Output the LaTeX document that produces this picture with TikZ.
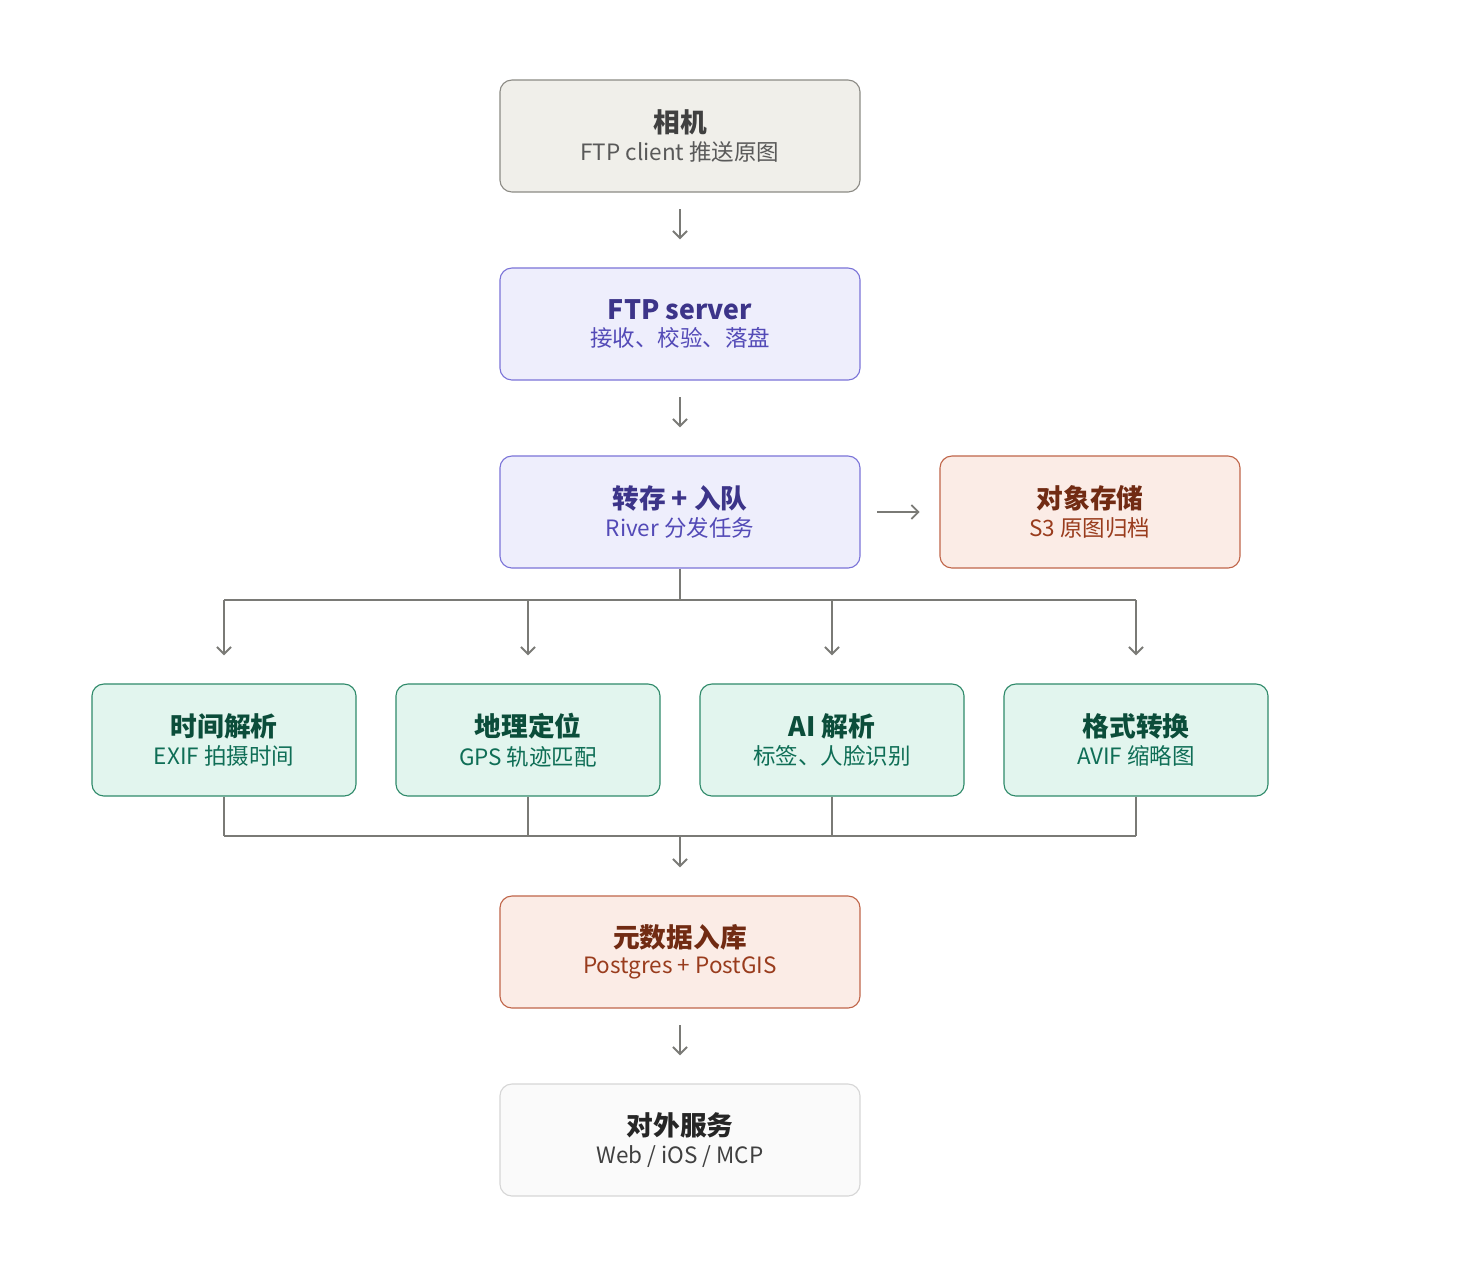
\documentclass[tikz,border=0pt]{standalone}
\usepackage{fontspec}
\setmainfont{Noto Sans CJK SC}
\usetikzlibrary{arrows.meta,positioning}
\definecolor{grayfill}{HTML}{F0EFEA}\definecolor{grayline}{HTML}{8C8B85}
\definecolor{purfill}{HTML}{EEEEFC}\definecolor{purline}{HTML}{7B74D8}
\definecolor{purtext}{HTML}{3C3489}\definecolor{pursub}{HTML}{534AB7}
\definecolor{orfill}{HTML}{FBECE6}\definecolor{orline}{HTML}{C0664A}
\definecolor{ortext}{HTML}{712B13}\definecolor{orsub}{HTML}{993C1D}
\definecolor{grfill}{HTML}{E2F5EE}\definecolor{grline}{HTML}{2F8A6A}
\definecolor{grtext}{HTML}{0B4D3A}\definecolor{grsub}{HTML}{0F6E56}
\definecolor{whfill}{HTML}{FAFAFA}\definecolor{whline}{HTML}{D6D6D6}
\definecolor{arrowc}{HTML}{7A7A76}
\begin{document}
\begin{tikzpicture}[x=0.025cm,y=-0.025cm,
  box/.style={draw, line width=0.8pt, rounded corners=0.3cm, minimum height=2.8cm, align=center, inner sep=0pt},
  wide/.style={box, minimum width=9cm},
  narrow/.style={box, minimum width=6.6cm},
  side/.style={box, minimum width=7.5cm},
  gray/.style={fill=grayfill, draw=grayline, text=black!75},
  purple/.style={fill=purfill, draw=purline, text=purtext},
  orange/.style={fill=orfill, draw=orline, text=ortext},
  green/.style={fill=grfill, draw=grline, text=grtext},
  white/.style={fill=whfill, draw=whline, text=black!85},
  flow/.style={draw=arrowc, line width=1.3pt, -{Straight Barb[length=5pt,width=10pt]}},
  bus/.style={draw=arrowc, line width=1.3pt}]
\newcommand{\two}[3]{{\fontsize{19}{24}\selectfont\bfseries #1}\\[4pt]{\fontsize{16}{20}\selectfont\color{#3}#2}}
\useasboundingbox (0,0) rectangle (1472,1276);
% main column
\node[wide, gray] (camera) at (680,136) {\two{相机}{FTP client 推送原图}{black!65}};
\node[wide, purple] (ftp) at (680,324) {\two{FTP server}{接收、校验、落盘}{pursub}};
\node[wide, purple] (queue) at (680,512) {\two{转存 + 入队}{River 分发任务}{pursub}};
\node[side, orange] (store) at (1090,512) {\two{对象存储}{S3 原图归档}{orsub}};
% workers
\node[narrow, green] (time) at (224,740) {\two{时间解析}{EXIF 拍摄时间}{grsub}};
\node[narrow, green] (geo) at (528,740) {\two{地理定位}{GPS 轨迹匹配}{grsub}};
\node[narrow, green] (ai) at (832,740) {\two{AI 解析}{标签、人脸识别}{grsub}};
\node[narrow, green] (conv) at (1136,740) {\two{格式转换}{AVIF 缩略图}{grsub}};
\node[wide, orange] (meta) at (680,952) {\two{元数据入库}{Postgres + PostGIS}{orsub}};
\node[wide, white] (serve) at (680,1140) {\two{对外服务}{Web / iOS / MCP}{black!75}};
% arrows
\draw[flow, shorten <=12pt, shorten >=20pt] (camera) -- (ftp);
\draw[flow, shorten <=12pt, shorten >=20pt] (ftp) -- (queue);
\draw[flow, shorten <=12pt, shorten >=14pt] (queue) -- (store);
\coordinate (split) at (680,600);
\coordinate (join) at (680,836);
\draw[bus] (queue.south) -- (split);
\draw[bus] (224,600) -- (1136,600);
\foreach \w in {time,geo,ai,conv} {
  \draw[flow, shorten >=20pt] (split -| \w) -- (\w.north);
  \draw[bus] (\w.south) -- (join -| \w);
}
\draw[bus] (224,836) -- (1136,836);
\draw[flow, shorten >=20pt] (join) -- (meta.north);
\draw[flow, shorten <=12pt, shorten >=20pt] (meta) -- (serve);
\end{tikzpicture}
\end{document}
